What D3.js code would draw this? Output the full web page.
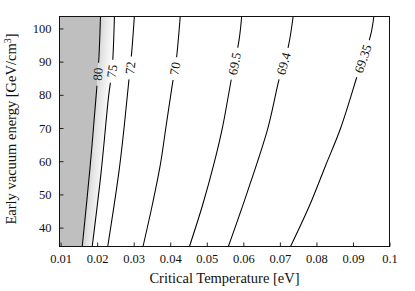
<html>
<script src='https://d3js.org/d3.v7.min.js'></script>
<style>
  body { margin: 0; background: white; }
  text { font-family: 'Liberation Serif', 'Times New Roman', serif; fill: #111; }
  .tick line { stroke: #222; }
</style>
<body>
<svg class="chart" width=415 height=291></svg>
<script>
// contour lines: [critical temperature (eV), vacuum energy (GeV/cm^3)]
const c80   = [[0.02091,103.6],[0.02045,90.4],[0.01974,79.9],[0.01799,57.3],[0.01592,34.3]];
const c75   = [[0.02473,103.6],[0.0241,87.7],[0.02317,79.9],[0.0211,56.8],[0.01865,34.3]];
const c72   = [[0.03018,103.6],[0.0295,93.4],[0.02855,82.9],[0.02745,70.9],[0.02595,56.7],[0.0229,34.3]];
const c70   = [[0.04273,103.6],[0.04164,90.4],[0.04055,82.9],[0.03891,70.9],[0.03727,58.8],[0.03509,46.8],[0.03255,34.3]];
const c69_5 = [[0.05955,103.6],[0.05882,96.4],[0.05677,85.0],[0.05432,70.3],[0.05186,58.8],[0.04886,46.8],[0.04526,34.3]];
const c69_4 = [[0.07363,103.6],[0.07232,94.6],[0.06973,84.4],[0.06673,70.0],[0.061,50.4],[0.0559,34.3]];
const c69_35= [[0.09572,103.6],[0.09482,97.9],[0.09182,88.0],[0.08664,70.0],[0.08255,58.8],[0.07818,46.8],[0.07292,34.3]];

const levels = ["80","75","72","70","69.5","69.4","69.35"];
const contours = [c80, c75, c72, c70, c69_5, c69_4, c69_35];
const labelAt = [86.2, 87.1, 88.1, 87.9, 89.4, 89.4, 90.9]; // vacuum energy where each label sits

const xTicks = [0.01,0.02,0.03,0.04,0.05,0.06,0.07,0.08,0.09,0.1];
const xTickLabels = ["0.01","0.02","0.03","0.04","0.05","0.06","0.07","0.08","0.09","0.1"];
const yTicks = [40,50,60,70,80,90,100];
const yTickLabels = ["40","50","60","70","80","90","100"];

let L = 59.5, T = 16.5, R = 389.5, B = 246.5;

let xs = d3.scaleLinear().domain([0.0097, 0.1]).range([L, R]);
let ys = d3.scaleLinear().domain([34.3, 103.6]).range([B, T]);

const svg = d3.select('.chart');
const defs = svg.append('defs');

defs.append('clipPath').attr('id','plotclip')
    .append('rect').attr('x',L).attr('y',T).attr('width',R-L).attr('height',B-T);

const line = d3.line().x(d=>xs(d[0])).y(d=>ys(d[1])).curve(d3.curveCatmullRom);

const plot = svg.append('g').attr('clip-path','url(#plotclip)');

// grey area left of the 80 contour
const area = d3.area().y(d=>ys(d[1])).x0(L).x1(d=>xs(d[0])).curve(d3.curveCatmullRom);
plot.append('path').attr('d', area(c80)).attr('fill','#bfbfbf');

// light shading band between 80 and 75, gradient slanted along the lines
let top80 = c80[0], bot80 = c80[c80.length-1];
let slant = (xs(bot80[0]) - xs(top80[0])) / (ys(bot80[1]) - ys(top80[1]));
let u0 = xs(top80[0]) - slant*ys(top80[1]);
let u1 = xs(c75[0][0]) - slant*ys(c75[0][1]);
const grad = defs.append('linearGradient').attr('id','band')
    .attr('gradientUnits','userSpaceOnUse')
    .attr('x1',u0).attr('x2',u1).attr('y1',0).attr('y2',0)
    .attr('gradientTransform','skewX(' + (Math.atan(slant)*180/Math.PI) + ')');
grad.append('stop').attr('offset','0%').attr('stop-color','#d2d2d2');
grad.append('stop').attr('offset','35%').attr('stop-color','#e4e4e4');
grad.append('stop').attr('offset','75%').attr('stop-color','#f1f1f1');
grad.append('stop').attr('offset','100%').attr('stop-color','#fafafa');
let bandPath = line(c80) + line(c75.slice().reverse()).replace(/^M/,'L') + 'Z';
plot.append('path').attr('d', bandPath).attr('fill','url(#band)');

// label positions along each contour
function pointAt(pts, e) {
    for (let i=0;i<pts.length-1;i++) {
        let a = pts[i], b = pts[i+1];
        if ((e<=a[1] && e>=b[1])) {
            let t = (e-a[1])/(b[1]-a[1]);
            let px = xs(a[0]) + t*(xs(b[0])-xs(a[0]));
            let ang = Math.atan2(ys(a[1])-ys(b[1]), xs(a[0])-xs(b[0]))*180/Math.PI;
            return [px, ys(e), ang];
        }
    }
}
const labs = contours.map((c,i)=>pointAt(c, labelAt[i]));

// mask that cuts the lines where labels sit
const mask = defs.append('mask').attr('id','gaps').attr('maskUnits','userSpaceOnUse')
    .attr('x',0).attr('y',0).attr('width',415).attr('height',291);
mask.append('rect').attr('width',415).attr('height',291).attr('fill','white');

const lineGroup = plot.append('g').attr('mask','url(#gaps)');
lineGroup.selectAll('path.contour')
    .data(contours)
    .join('path')
    .attr('class','contour')
    .attr('d', line)
    .attr('fill','none')
    .attr('stroke','#000')
    .attr('stroke-width',1.05);

const labelText = svg.append('g').selectAll('text')
    .data(levels)
    .join('text')
    .attr('transform',(d,i)=>'translate('+labs[i][0]+','+labs[i][1]+') rotate('+labs[i][2]+')')
    .attr('text-anchor','middle')
    .attr('dy','0.35em')
    .style('font-size','13px')
    .text(d=>d);

labelText.each(function(d,i) {
    let len = this.getComputedTextLength() + 10;
    mask.append('rect')
        .attr('x',-len/2).attr('y',-6).attr('width',len).attr('height',12)
        .attr('fill','black')
        .attr('transform','translate('+labs[i][0]+','+labs[i][1]+') rotate('+labs[i][2]+')');
});

// axes, ticks pointing inward
let x_axis = d3.axisBottom(xs).tickValues(xTicks).tickSize(-4).tickPadding(8)
    .tickFormat((d,i)=>xTickLabels[i]);
let y_axis = d3.axisLeft(ys).tickValues(yTicks).tickSize(-4).tickPadding(8)
    .tickFormat((d,i)=>yTickLabels[i]);

svg.append('g').attr('transform','translate(0,'+B+')').call(x_axis)
    .attr('font-family',"'Liberation Serif', serif").attr('font-size',12.5)
    .call(g=>g.select('.domain').remove());
svg.append('g').attr('transform','translate('+L+',0)').call(y_axis)
    .attr('font-family',"'Liberation Serif', serif").attr('font-size',12.5)
    .call(g=>g.select('.domain').remove());
svg.selectAll('.tick text').attr('fill','#111');

// frame
svg.append('rect').attr('x',L).attr('y',T).attr('width',R-L).attr('height',B-T)
    .attr('fill','none').attr('stroke','#111').attr('stroke-width',1);

// axis titles
svg.append('text').attr('x',(L+R)/2).attr('y',283).attr('text-anchor','middle')
    .style('font-size','14.5px').text('Critical Temperature [eV]');
const yt = svg.append('text').attr('transform','translate(16,'+129+') rotate(-90)')
    .attr('text-anchor','middle').style('font-size','14.5px');
yt.append('tspan').text('Early vacuum energy [GeV/cm');
yt.append('tspan').attr('baseline-shift','super').style('font-size','10px').text('3');
yt.append('tspan').text(']');
</script>
</body>
</html>
